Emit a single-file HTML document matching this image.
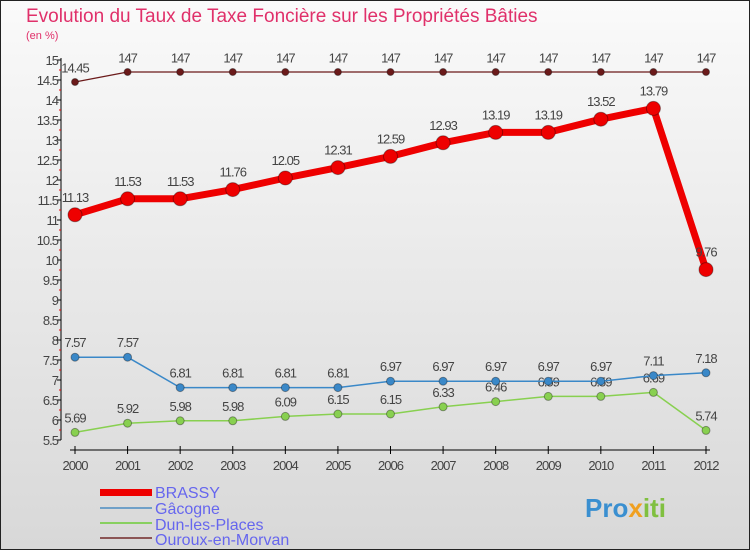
<!DOCTYPE html>
<html><head><meta charset="utf-8"><style>
body{margin:0;width:750px;height:550px;overflow:hidden;font-family:"Liberation Sans",sans-serif}
</style></head><body>
<svg width="750" height="550" xmlns="http://www.w3.org/2000/svg">
<defs><linearGradient id="bg" x1="0" y1="0" x2="0" y2="1"><stop offset="0" stop-color="#fafafa"/><stop offset="1" stop-color="#d8d8d8"/></linearGradient></defs>
<rect x="0.5" y="0.5" width="749" height="549" fill="url(#bg)" stroke="#222"/>
<text x="26" y="22" font-size="19" fill="#e0306a">Evolution du Taux de Taxe Foncière sur les Propriétés Bâties</text>
<text x="26" y="39" font-size="11" fill="#e0306a">(en %)</text>
<g id="axes"></g><g id="series"></g>
<g>
<rect x="100" y="489" width="52" height="7" fill="#ee0000"/>
<text x="155" y="498" font-size="16" fill="#6666ee">BRASSY</text>
<line x1="100" y1="508" x2="152" y2="508" stroke="#6fa0c8" stroke-width="2"/>
<text x="155" y="514" font-size="16" fill="#6666ee">Gâcogne</text>
<line x1="100" y1="523" x2="152" y2="523" stroke="#88d060" stroke-width="2"/>
<text x="155" y="530" font-size="16" fill="#6666ee">Dun-les-Places</text>
<line x1="100" y1="538" x2="152" y2="538" stroke="#8b5555" stroke-width="2"/>
<text x="155" y="545" font-size="16" fill="#6666ee">Ouroux-en-Morvan</text>
</g>
<text x="585" y="517" font-size="26" font-weight="bold"><tspan fill="#3a8fd0">Pro</tspan><tspan fill="#f0a020">x</tspan><tspan fill="#80c040">iti</tspan></text>
</svg>
<script>
const years=[2000,2001,2002,2003,2004,2005,2006,2007,2008,2009,2010,2011,2012];
const brassy=[11.13,11.53,11.53,11.76,12.05,12.31,12.59,12.93,13.19,13.19,13.52,13.79,9.76];
const gacogne=[7.57,7.57,6.81,6.81,6.81,6.81,6.97,6.97,6.97,6.97,6.97,7.11,7.18];
const dun=[5.69,5.92,5.98,5.98,6.09,6.15,6.15,6.33,6.46,6.59,6.59,6.69,5.74];
const ouroux=[14.45,14.7,14.7,14.7,14.7,14.7,14.7,14.7,14.7,14.7,14.7,14.7,14.7];
const yTicks=[5.5,6,6.5,7,7.5,8,8.5,9,9.5,10,10.5,11,11.5,12,12.5,13,13.5,14,14.5,15];
const NS="http://www.w3.org/2000/svg";
const xs=i=>75+i*(631/12);
const ys=v=>60+(15-v)*40;
function mk(t,a,p){const e=document.createElementNS(NS,t);for(const k in a)e.setAttribute(k,a[k]);p.appendChild(e);return e;}
const ax=document.getElementById('axes');
const yl=mk('line',{x1:61,y1:58,x2:61,y2:440,stroke:'#000'},ax);


yTicks.forEach(v=>{
 mk('line',{x1:57,x2:61,y1:ys(v),y2:ys(v),stroke:'#000'},ax);
 if(v<15) mk('line',{x1:59,x2:61,y1:ys(v)-10,y2:ys(v)-10,stroke:'#e00'},ax);
 const t=mk('text',{x:58,y:ys(v)+5,'text-anchor':'end','font-size':13,fill:'#444','letter-spacing':'-1'},ax);
 t.textContent=String(v);
 
 
});
const xl=mk('line',{x1:70,y1:450,x2:710,y2:450,stroke:'#000'},ax);


years.forEach((y,i)=>{
 mk('line',{x1:xs(i),x2:xs(i),y1:446,y2:454,stroke:'#000'},ax);
 const t=mk('text',{x:xs(i),y:470,'text-anchor':'middle','font-size':13,fill:'#444','letter-spacing':'-1'},ax);
 t.textContent=y;
 
 
});
const sg=document.getElementById('series');
function draw(name,arr,color,w,r,fmt){
 const g=mk('g',{},sg);
 
 
 mk('polyline',{points:arr.map((v,i)=>xs(i)+','+ys(v)).join(' '),fill:'none',stroke:color,'stroke-width':w,'stroke-linejoin':'round'},g);
 arr.forEach((v,i)=>{
  const c=mk('circle',{cx:xs(i),cy:ys(v),r:r,fill:color,stroke:'rgba(0,0,0,0.35)','stroke-width':1},g);
  
  
  const t=mk('text',{x:xs(i),y:ys(v)-(r+6),'text-anchor':'middle','font-size':13,fill:'#444','letter-spacing':'-1'},g);
  t.textContent=fmt(v);
  
  
 });
}
draw('ouroux',ouroux,'#6b1a1a',1.2,3.5,v=>v===14.7?'147':String(v));
draw('dun',dun,'#88d050',1.5,4,String);
draw('gacogne',gacogne,'#3a88c8',1.5,4,String);
draw('brassy',brassy,'#ee0000',7,7,String);
</script>
</body></html>
